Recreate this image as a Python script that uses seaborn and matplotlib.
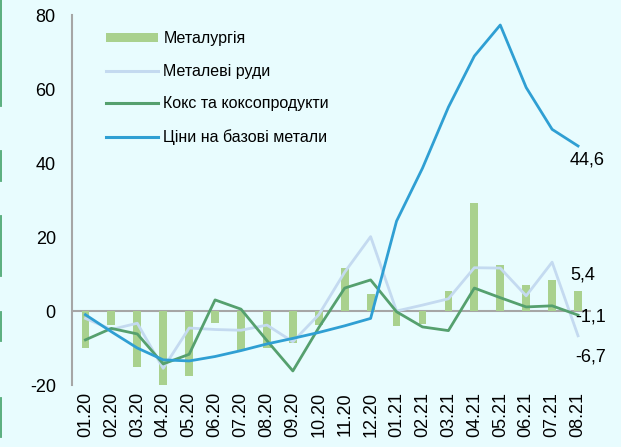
import pandas as pd
import matplotlib.pyplot as plt
import seaborn as sns
from matplotlib.lines import Line2D

# Місяці
months = ['01.20', '02.20', '03.20', '04.20', '05.20', '06.20', '07.20', '08.20', '09.20', '10.20',
          '11.20', '12.20', '01.21', '02.21', '03.21', '04.21', '05.21', '06.21', '07.21', '08.21']

# Металургія (стовпці)
metalurgy = [-10.0, -3.8, -15.0, -21.0, -17.5, -3.2, -10.5, -10.0, -8.7, -3.8,
             11.6, 4.6, -4.0, -3.5, 5.3, 29.2, 12.3, 6.9, 8.4, 5.4]
# Металеві руди
ores = [-2.0, -5.0, -3.3, -15.5, -4.6, -5.0, -5.2, -3.8, -8.3, -1.0,
        10.5, 20.1, 0.0, 1.6, 3.3, 11.7, 11.6, 4.1, 13.2, -6.7]
# Кокс та коксопродукти
coke = [-7.8, -4.7, -6.2, -14.3, -11.7, 3.0, 0.5, -8.0, -16.2, -4.5,
        6.2, 8.4, -0.2, -4.3, -5.3, 6.2, 3.6, 1.1, 1.4, -1.1]
# Ціни на базові метали
prices = [-1.0, -5.6, -10.0, -13.2, -13.5, -12.3, -10.7, -8.9, -7.4, -5.8,
          -4.0, -2.0, 24.3, 38.6, 55.1, 68.9, 77.3, 60.4, 49.1, 44.6]

names = ['Металургія', 'Металеві руди', 'Кокс та коксопродукти', 'Ціни на базові метали']
colors = ['#A9D18E', '#C4DAF0', '#55A06E', '#2F9FD3']

bg = '#E8FCFE'
plt.rcParams['font.family'] = ['Liberation Sans', 'DejaVu Sans']
plt.rcParams['axes.unicode_minus'] = False

bars = pd.DataFrame({'Місяць': months, 'Значення': metalurgy})
lines = pd.DataFrame({
    'Місяць': months * 3,
    'Значення': ores + coke + prices,
    'Ряд': [names[1]] * len(months) + [names[2]] * len(months) + [names[3]] * len(months),
})

fig = plt.figure(figsize=(6.21, 4.47), dpi=100, facecolor=bg)
ax = fig.add_axes([0.1167, 0.1387, 0.835, 0.8277])
ax.set_facecolor(bg)

sns.barplot(data=bars, x='Місяць', y='Значення', color=colors[0], width=0.3,
            saturation=1, label=names[0], ax=ax, zorder=2)
sns.lineplot(data=lines, x='Місяць', y='Значення', hue='Ряд', hue_order=names[1:],
             palette=colors[1:], linewidth=2, sort=False, ax=ax, zorder=3)

ax.axhline(0, color='#A6A6A6', lw=1.5, zorder=1)
ax.set_ylim(-20, 80)
ax.set_xlim(-0.5, len(months) - 0.5)
ax.set_yticks([-20, 0, 20, 40, 60, 80])
ax.set_xlabel('')
ax.set_ylabel('')
for s in ['top', 'right', 'bottom']:
    ax.spines[s].set_visible(False)
ax.spines['left'].set_color('#A6A6A6')
ax.spines['left'].set_linewidth(1.5)
ax.tick_params(axis='y', length=0, pad=12, labelsize=13)
ax.tick_params(axis='x', length=0, pad=5, labelsize=13, rotation=90)

# Легенда
handles, labels = ax.get_legend_handles_labels()
order = [labels.index(n) for n in names]
leg = ax.legend([handles[i] for i in order], [labels[i] for i in order],
                loc='upper left', bbox_to_anchor=(0.036, 0.995), frameon=False,
                fontsize=11.5, handlelength=3.3, handleheight=0.42,
                handletextpad=0.32, labelspacing=1.1)
for h in leg.legend_handles[1:]:
    h.set_linewidth(2.2)

# Підписи останніх значень
last = len(months) - 1
ax.annotate(f'{prices[-1]:.1f}'.replace('.', ','), xy=(last, prices[-1]), xytext=(9, -14),
            textcoords='offset pixels', ha='center', va='center', fontsize=13)
ax.annotate(f'{metalurgy[-1]:.1f}'.replace('.', ','), xy=(last, metalurgy[-1]), xytext=(5, 16),
            textcoords='offset pixels', ha='center', va='center', fontsize=13)
ax.annotate(f'{coke[-1]:.1f}'.replace('.', ','), xy=(last, coke[-1]), xytext=(-3, -2),
            textcoords='offset pixels', ha='left', va='center', fontsize=13)
ax.annotate(f'{ores[-1]:.1f}'.replace('.', ','), xy=(last, ores[-1]), xytext=(-3, -21),
            textcoords='offset pixels', ha='left', va='center', fontsize=13)

# Декоративна зелена смуга зліва
for y0, y1 in [(0, 106), (151, 181), (216, 276), (312, 341), (398, 437)]:
    fig.add_artist(Line2D([0.0015, 0.0015], [1 - y0 / 447, 1 - y1 / 447],
                          color='#4FA874', lw=1.3, transform=fig.transFigure))

fig.savefig('out.png', dpi=100, facecolor=bg)
